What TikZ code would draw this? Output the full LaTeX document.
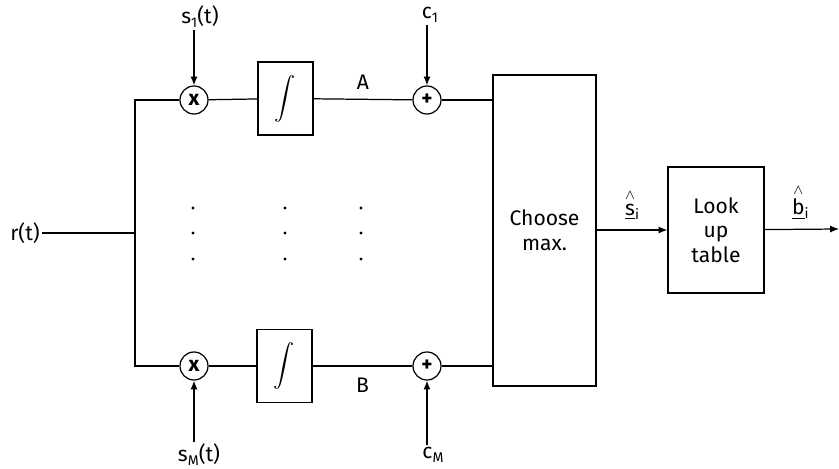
\documentclass[tikz,border=0pt]{standalone}
\usepackage{amsmath}
\usepackage{fontspec}
\setmainfont{Fira Sans}
\usetikzlibrary{arrows.meta,positioning,calc}

\tikzset{
  sig/.style={line width=0.7pt},
  sigarrow/.style={line width=0.7pt,-{Latex[length=5pt,width=4pt]}},
  oper/.style={draw,circle,line width=0.7pt,minimum size=0.56cm,inner sep=0pt,font=\fontsize{12}{14}\selectfont\bfseries},
  integ/.style={draw,line width=0.7pt,minimum width=1.1cm,minimum height=1.46cm,inner sep=0pt},
  txt/.style={inner sep=1pt}
}
\newcommand{\lowsub}[1]{\raisebox{-0.35ex}{\footnotesize #1}}
\newcommand{\estim}[1]{$\overset{\wedge}{\underline{\text{#1}}}{}$\lowsub{i}}

\begin{document}
\begin{tikzpicture}[x=0.02cm,y=-0.02cm,font=\fontsize{12}{14}\selectfont]
  \useasboundingbox (0,0) rectangle (839,469);

  % input and bus
  \node[txt] (rin) at (25,233) {r(t)};
  \coordinate (bus) at (135,233);
  \coordinate (bustop) at (135,100);
  \coordinate (busbot) at (135,366);

  % upper branch
  \node[oper] (m1) at (194,100) {x};
  \node[integ] (i1) at (285.5,98.5) {$\displaystyle\int$};
  \node[oper] (a1) at (427,100) {+};
  \node[txt] (s1) at (200,17) {s\lowsub{1}(t)};
  \node[txt] (c1) at (430,15) {c\lowsub{1}};

  % lower branch
  \node[oper] (mM) at (194,366) {x};
  \node[integ] (iM) at (284.5,366) {$\displaystyle\int$};
  \node[oper] (aM) at (427,366) {+};
  \node[txt] (sM) at (199,455) {s\lowsub{M}(t)};
  \node[txt] (cM) at (433,455) {c\lowsub{M}};

  % decision blocks
  \node[draw,line width=0.7pt,minimum width=2.06cm,minimum height=6.22cm,align=center] (cmax) at (544.5,230.5) {Choose\\max.};
  \node[draw,line width=0.7pt,minimum width=1.92cm,minimum height=2.52cm,align=center] (lut) at (716,230) {Look\\up\\table};
  \coordinate (out) at (839,229);

  \draw[sig] (rin.east |- bus) -- (bus);
  \draw[sig] (m1.west) -| (bustop) -- (busbot) -- (mM.west);

  \draw[sig] (m1) -- (i1);
  \draw[sig] (i1) -- node[above=2pt] {A} (a1);
  \draw[sig] (a1) -- (a1 -| cmax.west);
  \draw[sigarrow] (m1 |- s1.south) -- (m1);
  \draw[sigarrow] (a1 |- c1.south) -- (a1);

  \draw[sig] (mM) -- (iM);
  \draw[sig] (iM) -- node[below=3pt] {B} (aM);
  \draw[sig] (aM) -- (aM -| cmax.west);
  \draw[sigarrow] (mM |- sM.north) -- (mM);
  \draw[sigarrow] (aM |- cM.north) -- (aM);

  \draw[sigarrow] (cmax.east |- lut) -- node[above=2pt] {\estim{s}} (lut);
  \draw[sigarrow] (lut) -- node[above=2pt,pos=0.48] {\estim{b}} (out);

  % dots between the branches
  \foreach \x in {193,285,361}
    \foreach \y in {208,233,259}
      \fill (\x,\y) circle (1.6);
\end{tikzpicture}
\end{document}
